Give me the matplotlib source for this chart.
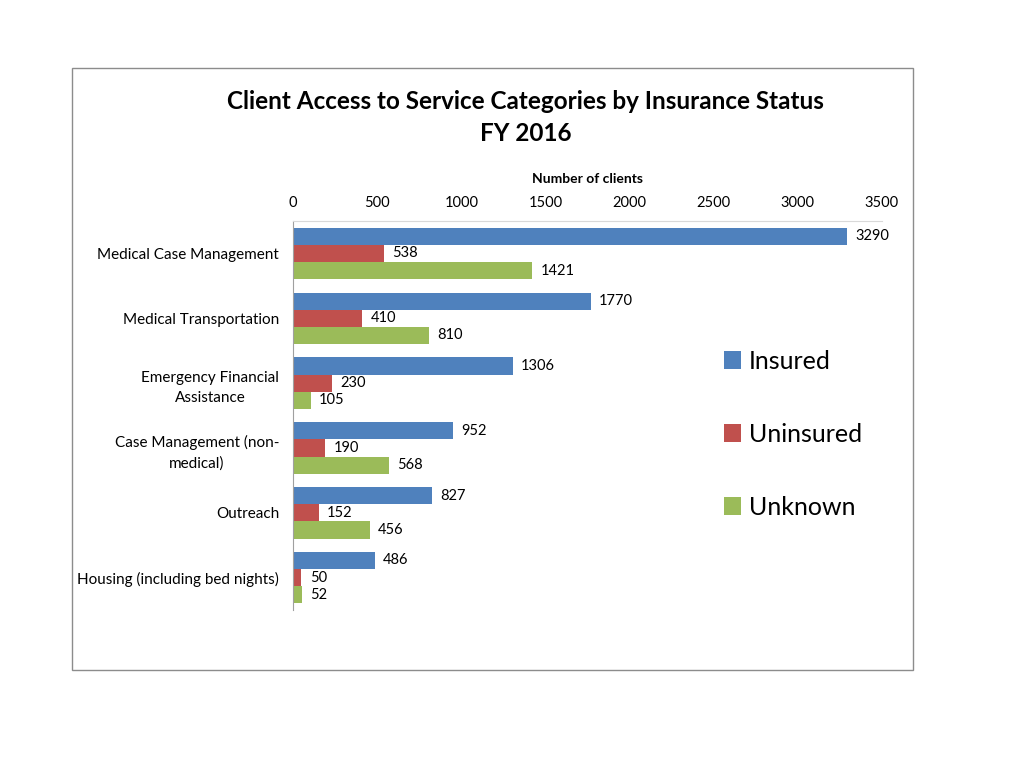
import numpy as np
import matplotlib.pyplot as plt
from matplotlib.patches import Rectangle

plt.rcParams['font.family'] = ['Lato', 'DejaVu Sans']

categories = ["Medical Case Management", "Medical Transportation",
              "Emergency Financial\nAssistance", "Case Management (non-\nmedical)",
              "Outreach", "Housing (including bed nights)"]
insured = [3290, 1770, 1306, 952, 827, 486]
uninsured = [538, 410, 230, 190, 152, 50]
unknown = [1421, 810, 105, 568, 456, 52]
series_names = ["Insured", "Uninsured", "Unknown"]
colors = ["#4f81bd", "#c0504d", "#9bbb59"]

fig = plt.figure(figsize=(10.24, 7.68), dpi=100)
ax = fig.add_axes([0.2861, 0.2057, 0.5752, 0.5065])

# outer chart border
fig.patches.append(Rectangle((72/1024, 1-670/768), 841/1024, 602/768,
                             transform=fig.transFigure, fill=False,
                             edgecolor="#8c8c8c", linewidth=1.0))

y = np.arange(len(categories))
h = 0.265
for i, (vals, name, c) in enumerate(zip([insured, uninsured, unknown], series_names, colors)):
    pos = y + (i - 1) * h
    bars = ax.barh(pos, vals, height=h, color=c, label=name)
    for b, v in zip(bars, vals):
        ax.text(v + 50, b.get_y() + h/2, str(v), va="center", ha="left", fontsize=10.5)

ax.set_ylim(len(categories) - 0.5, -0.5)
ax.set_xlim(0, 3500)
ax.set_xticks(np.arange(0, 3501, 500))
ax.xaxis.tick_top()
ax.xaxis.set_label_position("top")
ax.set_xlabel("Number of clients", fontsize=10, fontweight="bold", labelpad=9)
ax.set_yticks(y)
ax.set_yticklabels(categories, fontsize=11, ha="right", multialignment="center")
for lab in ax.get_yticklabels():
    lab.set_linespacing(1.55)
ax.tick_params(axis="y", length=0, pad=10)
ax.tick_params(axis="x", length=0, labelsize=10.5, pad=8)
for s in ["right", "bottom"]:
    ax.spines[s].set_visible(False)
ax.spines["top"].set_color("#d9d9d9")
ax.spines["left"].set_color("#a0a0a0")

fig.text(0.513, 0.847, "Client Access to Service Categories by Insurance Status\nFY 2016",
         ha="center", va="center", fontsize=17.5, fontweight="bold", linespacing=1.5)

fig.legend(loc="upper left", bbox_to_anchor=(0.685, 0.574), frameon=False,
           fontsize=18, handlelength=0.7, handleheight=0.7, labelspacing=2.0,
           handletextpad=0.3)

fig.savefig("out.png", dpi=100)
